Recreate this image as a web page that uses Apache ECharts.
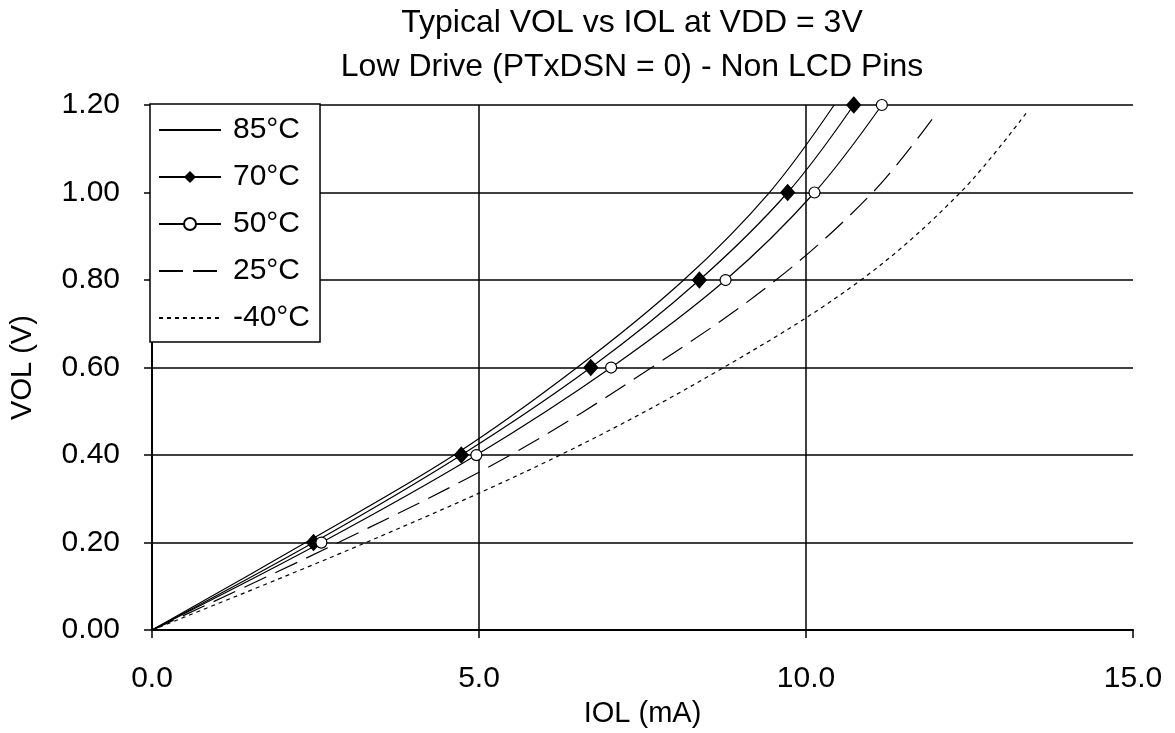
<!DOCTYPE html>
<html>
<head>
<meta charset="utf-8">
<script src="https://cdn.jsdelivr.net/npm/echarts@6/dist/echarts.min.js"></script>
<style>
html,body{margin:0;padding:0;background:#fff;}
#chart{width:1175px;height:733px;}
</style>
</head>
<body>
<div id="chart"></div>
<script>
// ---- data ----
const seriesNames = ['85°C', '70°C', '50°C', '25°C', '-40°C'];
const vol = [0, 0.2, 0.4, 0.6, 0.8, 1.0, 1.2];
const vol25 = [0, 0.2, 0.4, 0.6, 0.8, 1.0, 1.172];
const volM40 = [0, 0.2, 0.4, 0.6, 0.8, 1.0, 1.188];
const iol85 = [0, 2.35, 4.62, 6.50, 8.13, 9.44, 10.43];
const iol70 = [0, 2.47, 4.73, 6.71, 8.37, 9.72, 10.73];
const iol50 = [0, 2.59, 4.96, 7.02, 8.77, 10.13, 11.16];
const iol25 = [0, 2.85, 5.48, 7.64, 9.54, 11.02, 11.95];
const iolM40 = [0, 3.27, 6.24, 8.74, 10.84, 12.36, 13.40];
const xTicks = [0, 5, 10, 15];
const yTicks = [0, 0.2, 0.4, 0.6, 0.8, 1.0, 1.2];
const titleLine1 = 'Typical VOL vs IOL at VDD = 3V';
const titleLine2 = 'Low Drive (PTxDSN = 0) - Non LCD Pins';
const xName = 'IOL (mA)';
const yName = 'VOL (V)';

const FONT = "'Liberation Sans', Arial, sans-serif";

function pairs(xs, ys, markers) {
  return xs.map((x, i) => {
    const item = { value: [x, ys[i]] };
    if (markers && i === 0) item.symbol = 'none';
    return item;
  });
}

const chart = echarts.init(document.getElementById('chart'), null, { renderer: 'canvas' });

const baseLine = { color: '#000', width: 1.2 };
const hiddenSymbol = { color: 'rgba(0,0,0,0)', borderColor: 'rgba(0,0,0,0)', borderWidth: 0, opacity: 0 };

const option = {
  backgroundColor: '#fff',
  animation: false,
  graphic: [
    { type: 'text', x: 632, y: 23, style: { text: titleLine1, font: '32px ' + FONT, fill: '#000', align: 'center', verticalAlign: 'middle' } },
    { type: 'text', x: 632, y: 67, style: { text: titleLine2, font: '32px ' + FONT, fill: '#000', align: 'center', verticalAlign: 'middle' } }
  ],
  grid: { left: 148, right: 42, top: 105, bottom: 99 },
  legend: {
    orient: 'vertical',
    left: 150,
    top: 104,
    data: [
      { name: seriesNames[0], itemStyle: hiddenSymbol },
      { name: seriesNames[1] },
      { name: seriesNames[2] },
      { name: seriesNames[3], itemStyle: hiddenSymbol },
      { name: seriesNames[4], itemStyle: hiddenSymbol }
    ],
    backgroundColor: '#fff',
    borderColor: '#000',
    borderWidth: 1.5,
    borderRadius: 0,
    padding: [11, 10, 9, 8],
    itemWidth: 62,
    itemHeight: 15,
    itemGap: 17,
    selectedMode: false,
    textStyle: { fontFamily: FONT, fontSize: 30, color: '#000', lineHeight: 30, padding: [0, 0, 0, 7] },
    z: 10
  },
  xAxis: {
    type: 'value',
    min: xTicks[0],
    max: xTicks[xTicks.length - 1],
    interval: 5,
    name: xName,
    nameLocation: 'middle',
    nameGap: 62,
    nameTextStyle: { fontFamily: FONT, fontSize: 29, color: '#000' },
    axisLine: { show: true, onZero: false, lineStyle: { color: '#000', width: 2 } },
    axisTick: { show: true, inside: false, length: 8, lineStyle: { color: '#000', width: 1.5 } },
    axisLabel: { margin: 34, fontFamily: FONT, fontSize: 30, color: '#000', formatter: v => v.toFixed(1) },
    splitLine: { show: true, showMinLine: false, showMaxLine: false, lineStyle: { color: '#000', width: 1.5 } }
  },
  yAxis: {
    type: 'value',
    min: yTicks[0],
    max: yTicks[yTicks.length - 1],
    interval: 0.2,
    name: yName,
    nameLocation: 'middle',
    nameGap: 115,
    nameTextStyle: { fontFamily: FONT, fontSize: 29, color: '#000' },
    axisLine: { show: true, onZero: false, lineStyle: { color: '#000', width: 2 } },
    axisTick: { show: true, inside: false, length: 8, lineStyle: { color: '#000', width: 1.5 } },
    axisLabel: { margin: 32, fontFamily: FONT, fontSize: 30, color: '#000', formatter: v => v.toFixed(2) },
    splitLine: { show: true, showMinLine: false, showMaxLine: true, lineStyle: { color: '#000', width: 1.5 } }
  },
  series: [
    {
      name: seriesNames[0], type: 'line', smooth: 0.35, symbol: 'none',
      lineStyle: Object.assign({}, baseLine), itemStyle: { color: '#000' },
      data: pairs(iol85, vol, false), z: 3
    },
    {
      name: seriesNames[1], type: 'line', smooth: 0.35, symbol: 'diamond', symbolSize: [14, 16], showAllSymbol: true,
      lineStyle: Object.assign({}, baseLine), itemStyle: { color: '#000', borderColor: '#000' },
      data: pairs(iol70, vol, true), z: 4
    },
    {
      name: seriesNames[2], type: 'line', smooth: 0.35, symbol: 'circle', symbolSize: 11, showAllSymbol: true,
      lineStyle: Object.assign({}, baseLine), itemStyle: { color: '#fff', borderColor: '#000', borderWidth: 1.2 },
      data: pairs(iol50, vol, true), z: 4
    },
    {
      name: seriesNames[3], type: 'line', smooth: 0.35, symbol: 'none',
      lineStyle: Object.assign({}, baseLine, { type: [24, 10] }), itemStyle: { color: '#000' },
      data: pairs(iol25, vol25, false), z: 3
    },
    {
      name: seriesNames[4], type: 'line', smooth: 0.35, symbol: 'none',
      lineStyle: Object.assign({}, baseLine, { type: [4, 4] }), itemStyle: { color: '#000' },
      data: pairs(iolM40, volM40, false), z: 3
    }
  ]
};

chart.setOption(option);
</script>
</body>
</html>
